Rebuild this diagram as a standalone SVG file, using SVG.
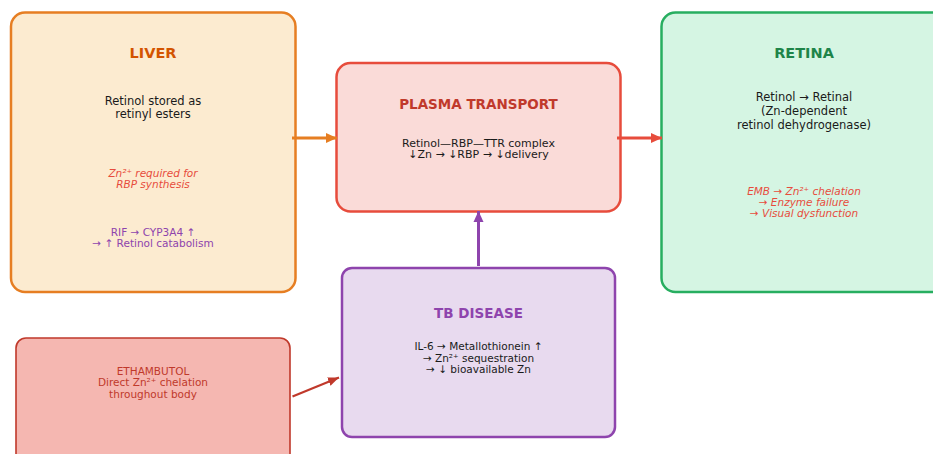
<svg xmlns="http://www.w3.org/2000/svg" width="933" height="454" viewBox="0 0 933 454">
<style>
text{font-family:"DejaVu Sans",sans-serif;text-anchor:middle}
.t{font-weight:bold;font-size:14.5px}
.b{font-size:11.5px;fill:#1a1a1a}
.s{font-size:11px;fill:#1a1a1a}
.n{font-size:10.5px}
.i{font-style:italic;fill:#e74c3c}
.box{stroke-width:2.5}
</style>
<defs>
<marker id="ao" markerUnits="userSpaceOnUse" markerWidth="12" markerHeight="12" refX="11" refY="6" orient="auto"><path d="M0,1 L11,6 L0,11 Z" fill="#e67e22"/></marker>
<marker id="ar" markerUnits="userSpaceOnUse" markerWidth="12" markerHeight="12" refX="11" refY="6" orient="auto"><path d="M0,1 L11,6 L0,11 Z" fill="#e74c3c"/></marker>
<marker id="ap" markerUnits="userSpaceOnUse" markerWidth="12" markerHeight="12" refX="11" refY="6" orient="auto"><path d="M0,1 L11,6 L0,11 Z" fill="#8e44ad"/></marker>
<marker id="ad" markerUnits="userSpaceOnUse" markerWidth="12" markerHeight="12" refX="11" refY="6" orient="auto"><path d="M0,1.5 L11,6 L0,10.5 Z" fill="#c0392b"/></marker>
</defs>
<rect width="933" height="454" fill="#ffffff"/>
<g id="liver">
<rect class="box" x="11" y="12.5" width="284.5" height="279.5" rx="14" fill="#fcebd0" stroke="#e67e22"/>
<text class="t" x="153" y="58" fill="#d35400">LIVER</text>
<text class="b" x="153" y="104.5">Retinol stored as</text>
<text class="b" x="153" y="117.5">retinyl esters</text>
<text class="n i" x="153" y="176.5">Zn²⁺ required for</text>
<text class="n i" x="153" y="187.5">RBP synthesis</text>
<text class="n" x="153" y="235.5" fill="#8e44ad">RIF → CYP3A4 ↑</text>
<text class="n" x="153" y="247" fill="#8e44ad">→ ↑ Retinol catabolism</text>
</g>
<g id="plasma">
<rect class="box" x="336.5" y="63" width="284" height="148.5" rx="14" fill="#fadbd8" stroke="#e74c3c"/>
<text class="t" x="478.5" y="109" fill="#c0392b" style="font-size:13.5px">PLASMA TRANSPORT</text>
<text class="s" x="478.5" y="146.5">Retinol—RBP—TTR complex</text>
<text class="s" x="478.5" y="158">↓Zn → ↓RBP → ↓delivery</text>
</g>
<g id="retina">
<rect class="box" x="661.5" y="12.5" width="300" height="279.5" rx="14" fill="#d5f5e3" stroke="#27ae60"/>
<text class="t" x="804" y="58" fill="#1e8449">RETINA</text>
<text class="b" x="804" y="101">Retinol → Retinal</text>
<text class="b" x="804" y="114.5">(Zn-dependent</text>
<text class="b" x="804" y="128.5">retinol dehydrogenase)</text>
<text class="n i" x="804" y="194.5">EMB → Zn²⁺ chelation</text>
<text class="n i" x="804" y="205.5">→ Enzyme failure</text>
<text class="n i" x="804" y="217">→ Visual dysfunction</text>
</g>
<g id="tb">
<rect class="box" x="342" y="268" width="273" height="169" rx="10" fill="#e8daef" stroke="#8e44ad"/>
<text class="t" x="478.5" y="318" fill="#8e44ad" style="font-size:13.5px">TB DISEASE</text>
<text class="n" x="478.5" y="350" fill="#1a1a1a">IL-6 → Metallothionein ↑</text>
<text class="n" x="478.5" y="361.5" fill="#1a1a1a">→ Zn²⁺ sequestration</text>
<text class="n" x="478.5" y="373" fill="#1a1a1a">→ ↓ bioavailable Zn</text>
</g>
<g id="ethambutol">
<rect x="16" y="338" width="274" height="130" rx="10" fill="#f5b7b1" stroke="#c0392b" stroke-width="1.6"/>
<text class="n" x="153" y="374.5" fill="#c0392b">ETHAMBUTOL</text>
<text class="n" x="153" y="386" fill="#c0392b">Direct Zn²⁺ chelation</text>
<text class="n" x="153" y="397.5" fill="#c0392b">throughout body</text>
</g>
<g id="connectors" fill="none">
<line x1="292" y1="138" x2="337" y2="138" stroke="#e67e22" stroke-width="3" marker-end="url(#ao)"/>
<line x1="617" y1="138" x2="662" y2="138" stroke="#e74c3c" stroke-width="3" marker-end="url(#ar)"/>
<line x1="478.5" y1="266" x2="478.5" y2="211" stroke="#8e44ad" stroke-width="3" marker-end="url(#ap)"/>
<line x1="292.5" y1="396.5" x2="339" y2="377.5" stroke="#c0392b" stroke-width="2.2" marker-end="url(#ad)"/>
</g>
</svg>
